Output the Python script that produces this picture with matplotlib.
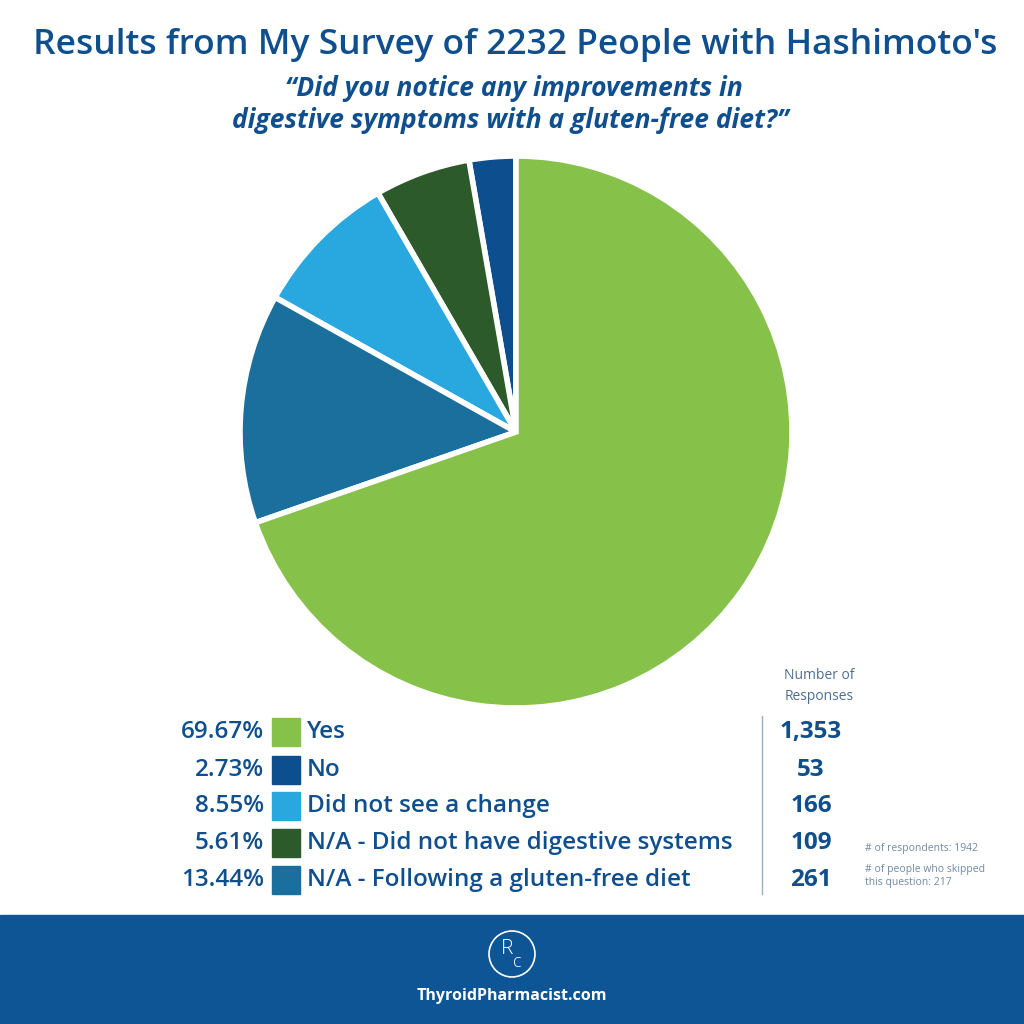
import matplotlib.pyplot as plt
from matplotlib.patches import Rectangle, Circle

# data
labels = ['Yes', 'No', 'Did not see a change',
          'N/A - Did not have digestive systems', 'N/A - Following a gluten-free diet']
percents = [69.67, 2.73, 8.55, 5.61, 13.44]
counts = ['1,353', '53', '166', '109', '261']
colors = ['#86c14a', '#0d4f8e', '#29a8e0', '#2d5a2a', '#1b6f9c']
pie_order = [1, 3, 2, 4, 0]  # counterclockwise from the top

navy = '#0f4f8d'
plt.rcParams['font.family'] = ['Open Sans', 'DejaVu Sans']

fig = plt.figure(figsize=(10.24, 10.24), dpi=100)
bg = fig.add_axes([0, 0, 1, 1])
bg.set_xlim(0, 1024)
bg.set_ylim(1024, 0)
bg.axis('off')

# title
bg.text(515, 45, "Results from My Survey of 2232 People with Hashimoto's",
        ha='center', va='center', fontsize=25.5, fontweight='semibold', color=navy)
bg.text(514, 89, "\u201cDid you notice any improvements in",
        ha='center', va='center', fontsize=19, fontweight='bold', style='italic', color=navy)
bg.text(510, 121, "digestive symptoms with a gluten-free diet?\u201d",
        ha='center', va='center', fontsize=19, fontweight='bold', style='italic', color=navy)

# pie
cx, cy, r = 516, 432, 276
pax = fig.add_axes([(cx - r) / 1024, (1024 - cy - r) / 1024, 2 * r / 1024, 2 * r / 1024])
pax.pie([percents[i] for i in pie_order], colors=[colors[i] for i in pie_order],
        startangle=90, counterclock=True, radius=1,
        wedgeprops=dict(edgecolor='white', linewidth=4))
pax.set_xlim(-1, 1)
pax.set_ylim(-1, 1)
pax.axis('off')

# legend table
row_y = [732, 770, 806, 843, 880]
for i, y in enumerate(row_y):
    bg.text(264, y, f'{percents[i]:.2f}%', ha='right', va='center', fontsize=17.5,
            fontweight='semibold', color=navy)
    bg.add_patch(Rectangle((272, y - 14), 28, 28, color=colors[i]))
    bg.text(307, y, labels[i], ha='left', va='center', fontsize=17.5,
            fontweight='semibold', color=navy)
    bg.text(811, y, counts[i], ha='center', va='center', fontsize=17.5,
            fontweight='bold', color=navy)
bg.plot([762, 762], [716, 894], color='#9aaec4', lw=1)
bg.text(819, 686, 'Number of\nResponses', ha='center', va='center', fontsize=10,
        color='#4d6f91', linespacing=1.5)

# notes
bg.text(865, 849, '# of respondents: 1942', ha='left', va='center', fontsize=7.5, color='#6f8aa5')
bg.text(865, 876, '# of people who skipped\nthis question: 217', ha='left', va='center',
        fontsize=7.5, color='#6f8aa5')

# footer
bg.add_patch(Rectangle((0, 915), 1024, 109, color='#0d5595'))
bg.add_patch(Circle((512, 954), 23, fill=False, edgecolor='white', lw=1.2))
bg.text(507, 949, 'R', ha='center', va='center', fontsize=15, color='white', fontweight='light')
bg.text(517, 962, 'c', ha='center', va='center', fontsize=13, color='white', fontweight='light')
bg.text(512, 996, 'ThyroidPharmacist.com', ha='center', va='center', fontsize=11.5,
        fontweight='bold', color='white')

fig.savefig('out.png', dpi=100)
